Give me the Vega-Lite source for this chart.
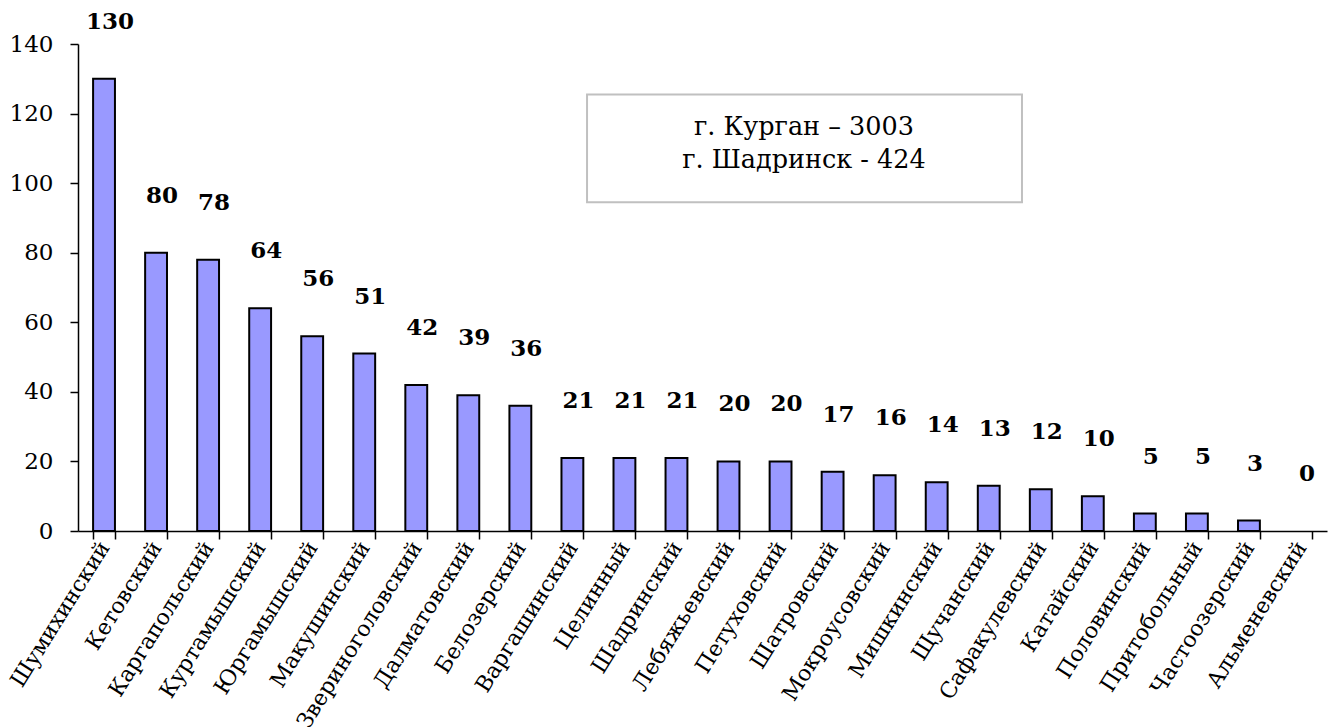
{
  "$schema": "https://vega.github.io/schema/vega-lite/v6.json",
  "width": 1249,
  "height": 487,
  "autosize": {"type": "none"},
  "padding": {"left": 78, "top": 44, "right": 9, "bottom": 196},
  "background": "white",
  "config": {"view": {"stroke": null}, "font": "DejaVu Serif"},
  "data": {"values": [
    {"region": "Шумихинский", "value": 130},
    {"region": "Кетовский", "value": 80},
    {"region": "Каргапольский", "value": 78},
    {"region": "Куртамышский", "value": 64},
    {"region": "Юргамышский", "value": 56},
    {"region": "Макушинский", "value": 51},
    {"region": "Звериноголовский", "value": 42},
    {"region": "Далматовский", "value": 39},
    {"region": "Белозерский", "value": 36},
    {"region": "Варгашинский", "value": 21},
    {"region": "Целинный", "value": 21},
    {"region": "Шадринский", "value": 21},
    {"region": "Лебяжьевский", "value": 20},
    {"region": "Петуховский", "value": 20},
    {"region": "Шатровский", "value": 17},
    {"region": "Мокроусовский", "value": 16},
    {"region": "Мишкинский", "value": 14},
    {"region": "Щучанский", "value": 13},
    {"region": "Сафакулевский", "value": 12},
    {"region": "Катайский", "value": 10},
    {"region": "Половинский", "value": 5},
    {"region": "Притобольный", "value": 5},
    {"region": "Частоозерский", "value": 3},
    {"region": "Альменевский", "value": 0}
  ]},
  "layer": [
    {"transform": [{"filter": "datum.value > 0"}],
     "mark": {"type": "bar", "fill": "#9999FF", "stroke": "black", "strokeWidth": 2},
     "encoding": {
      "x": {
        "field": "region", "type": "nominal", "sort": null,
        "scale": {"paddingInner": 0.58, "paddingOuter": 0.29},
        "axis": {
          "title": null, "labelAngle": -58, "labelAlign": "right", "labelBaseline": "middle",
          "labelFont": "DejaVu Serif", "labelFontSize": 22, "labelColor": "black",
          "labelPadding": 4, "labelLimit": 400, "tickBand": "extent", "tickSize": 8, "tickColor": "black",
          "domainColor": "black", "tickWidth": 1.5, "domainWidth": 1.5, "labelOverlap": false
        }
      },
      "y": {
        "field": "value", "type": "quantitative",
        "scale": {"domain": [0, 140], "nice": false},
        "axis": {
          "title": null, "values": [0, 20, 40, 60, 80, 100, 120, 140], "grid": false,
          "labelFont": "DejaVu Serif", "labelFontSize": 23, "labelColor": "black",
          "tickSize": 8, "tickColor": "black", "domainColor": "black", "labelPadding": 17,
          "tickWidth": 1.5, "domainWidth": 1.5
        }
      }
    }},
    {"mark": {"type": "text", "font": "DejaVu Serif", "fontWeight": "bold", "fontSize": 23, "dy": -57, "dx": 6, "baseline": "middle", "color": "black"},
     "encoding": {
      "x": {"field": "region", "type": "nominal", "sort": null},
      "y": {"field": "value", "type": "quantitative"},
      "text": {"field": "value", "type": "quantitative"}
    }},
    {"data": {"values": [{"note": "г. Курган – 3003\nг. Шадринск - 424"}]},
     "mark": {"type": "rect", "fill": "white", "stroke": "#c0c0c0", "strokeWidth": 2},
     "encoding": {
      "x": {"datum": "Варгашинский", "bandPosition": 1.17},
      "x2": {"datum": "Сафакулевский", "bandPosition": -0.36},
      "y": {"datum": 125.5},
      "y2": {"datum": 94.5}
    }},
    {"data": {"values": [{"note": "г. Курган – 3003\nг. Шадринск - 424"}]},
     "mark": {"type": "text", "font": "DejaVu Serif", "fontSize": 25.5, "lineBreak": "\n", "lineHeight": 33, "align": "center", "baseline": "middle", "color": "black"},
     "encoding": {
      "x": {"datum": "Петуховский", "bandPosition": 1.57},
      "y": {"datum": 116},
      "text": {"field": "note"}
    }}
  ]
}
